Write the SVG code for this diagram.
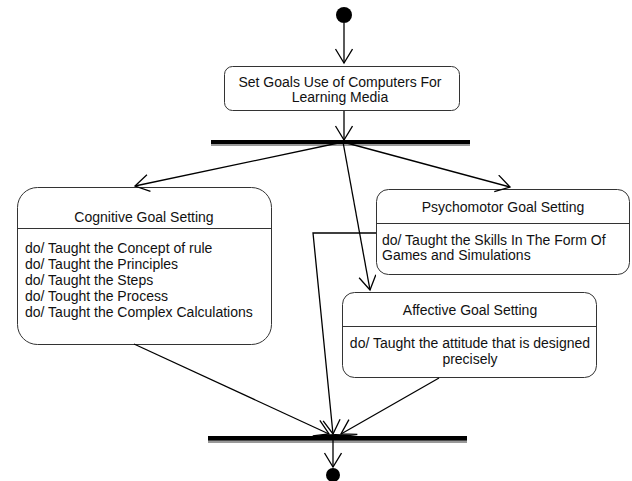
<svg xmlns="http://www.w3.org/2000/svg" width="632" height="481" viewBox="0 0 632 481">
<style>
.node{fill:#fff;stroke:#333;stroke-width:1}
.div{stroke:#333;stroke-width:1}
.t{font-family:"Liberation Sans",Arial,sans-serif;font-size:14px;fill:#111}
.c{text-anchor:middle}
.edge{fill:none;stroke:#000;stroke-width:1.3}
.arr{marker-end:url(#open)}
</style>
<defs>
<marker id="open" markerUnits="userSpaceOnUse" markerWidth="18" markerHeight="20" refX="15" refY="9" orient="auto">
<path d="M1,0.5 L15,9 L1,17.5" fill="none" stroke="#000" stroke-width="1.3"/>
</marker>
</defs>
<rect width="632" height="481" fill="#fff"/>
<g id="start"><circle cx="344" cy="15" r="8" fill="#000"/></g>
<g id="setgoals">
<rect class="node" x="224.5" y="66.5" width="235" height="44" rx="8"/>
<text class="t c" x="340" y="87">Set Goals Use of Computers For</text>
<text class="t c" x="340" y="102">Learning Media</text>
</g>
<g id="fork">
<rect x="211" y="143" width="259" height="3" fill="#999"/>
<rect x="211" y="140" width="259" height="4" fill="#000"/>
</g>
<g id="cognitive">
<rect class="node" x="17.5" y="187.5" width="254" height="157" rx="20"/>
<line class="div" x1="17.5" y1="228.5" x2="271.5" y2="228.5"/>
<text class="t c" x="144" y="222">Cognitive Goal Setting</text>
<text class="t" x="25" y="253">do/ Taught the Concept of rule</text>
<text class="t" x="25" y="269">do/ Taught the Principles</text>
<text class="t" x="25" y="285">do/ Taught the Steps</text>
<text class="t" x="25" y="301">do/ Tought the Process</text>
<text class="t" x="25" y="317">do/ Taught the Complex Calculations</text>
</g>
<g id="psychomotor">
<rect class="node" x="376.5" y="189.5" width="253" height="85" rx="12"/>
<line class="div" x1="376.5" y1="223.5" x2="629.5" y2="223.5"/>
<text class="t c" x="503" y="212">Psychomotor Goal Setting</text>
<text class="t" x="382" y="245">do/ Taught the Skills In The Form Of</text>
<text class="t" x="382" y="260">Games and Simulations</text>
</g>
<g id="affective">
<rect class="node" x="342.5" y="292.5" width="254" height="85" rx="12"/>
<line class="div" x1="342.5" y1="326.5" x2="596.5" y2="326.5"/>
<text class="t c" x="470" y="315">Affective Goal Setting</text>
<text class="t c" x="470" y="348">do/ Taught the attitude that is designed</text>
<text class="t c" x="470" y="364">precisely</text>
</g>
<g id="join">
<rect x="208" y="440" width="259" height="3" fill="#999"/>
<rect x="208" y="436" width="259" height="4.5" fill="#000"/>
<path d="M314,436 Q335,432 358,436 Z" fill="#000"/>
</g>
<g id="end"><circle cx="333" cy="475" r="7" fill="#000"/></g>
<g id="connectors">
<line class="edge arr" x1="344" y1="23" x2="344" y2="63"/>
<line class="edge arr" x1="344" y1="111" x2="344" y2="140"/>
<line class="edge arr" x1="343" y1="142" x2="135" y2="186"/>
<line class="edge arr" x1="343" y1="142" x2="510" y2="187"/>
<line class="edge arr" x1="343" y1="142" x2="370" y2="290"/>
<polyline class="edge arr" points="376,233 313,233 333,434"/>
<line class="edge arr" x1="134" y1="344" x2="329" y2="434"/>
<line class="edge arr" x1="439" y1="378" x2="341" y2="434"/>
<line class="edge arr" x1="333" y1="440" x2="333" y2="467"/>
</g>
</svg>
